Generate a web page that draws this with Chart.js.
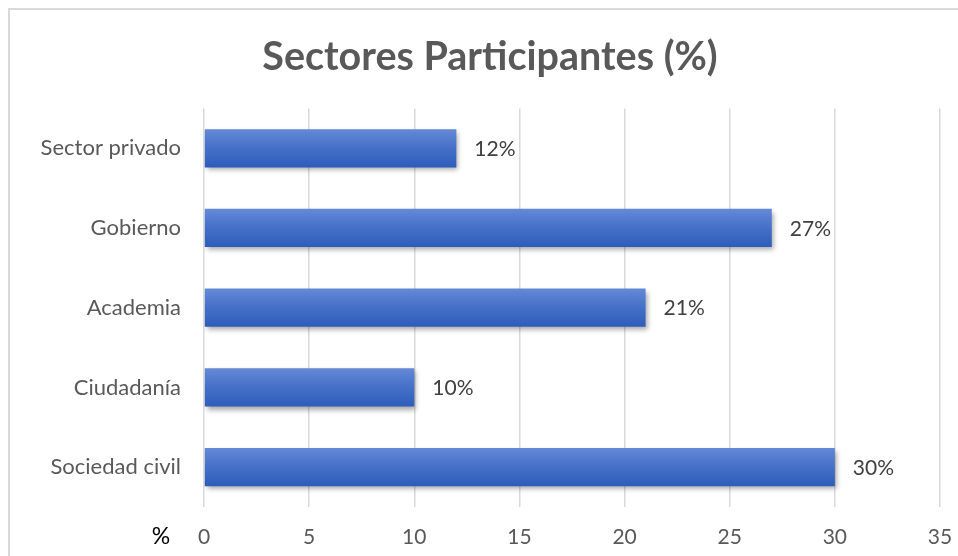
<!DOCTYPE html>
<html>
<head>
<meta charset="utf-8">
<title>Sectores Participantes (%)</title>
<script src="https://cdn.jsdelivr.net/npm/chart.js@4/dist/chart.umd.min.js"></script>
<style>
  html, body { margin: 0; padding: 0; background: #fff; }
  #wrap { width: 958px; height: 556px; }
</style>
</head>
<body>
<div id="wrap"><canvas id="chart" width="958" height="556"></canvas></div>
<script>
// datos
const categories = ['Sector privado', 'Gobierno', 'Academia', 'Ciudadanía', 'Sociedad civil'];
const values = [12, 27, 21, 10, 30];
const xTicks = [0, 5, 10, 15, 20, 25, 30, 35];
const titleText = 'Sectores Participantes (%)';
const axisUnit = '%';

const FONT = 'Lato, "Open Sans", sans-serif';
const barPct = 0.48;
const padLeft = 40;

// degradado vertical por barra
function barGradient(ctx) {
    const chart = ctx.chart;
    const y = chart.scales && chart.scales.y;
    if (!chart.chartArea || !y || ctx.dataIndex === undefined) return '#4472c4';
    const c = y.getPixelForValue(ctx.dataIndex);
    const h = y.height / categories.length * barPct / 2;
    const g = chart.ctx.createLinearGradient(0, c - h, 0, c + h);
    g.addColorStop(0, '#6489d6');
    g.addColorStop(0.5, '#4570c8');
    g.addColorStop(1, '#2d5cba');
    return g;
}

const decoPlugin = {
    id: 'deco',
    beforeDraw(chart) {
        const c = chart.ctx;
        c.save();
        c.strokeStyle = '#d9d9d9';
        c.lineWidth = 2;
        c.strokeRect(9, 9, 1000, 1000);
        c.restore();
    },
    beforeDatasetsDraw(chart) {
        const c = chart.ctx;
        c.save();
        c.shadowColor = 'rgba(0,0,0,0.35)';
        c.shadowBlur = 5;
        c.shadowOffsetX = 2;
        c.shadowOffsetY = 3;
    },
    afterDatasetsDraw(chart) {
        const c = chart.ctx;
        c.restore();
        c.save();
        // etiquetas de valor
        c.font = '21px ' + FONT;
        c.fillStyle = '#404040';
        c.textAlign = 'left';
        c.textBaseline = 'middle';
        chart.getDatasetMeta(0).data.forEach((el, i) => {
            c.fillText(values[i] + '%', el.x + 18, el.y + 1);
        });
        // unidad del eje
        c.font = '23px ' + FONT;
        c.fillStyle = '#000';
        c.textAlign = 'center';
        c.fillText(axisUnit, 161, 537);
        c.restore();
    }
};

new Chart(document.getElementById('chart'), {
    type: 'bar',
    data: {
        labels: categories,
        datasets: [{
            data: values,
            backgroundColor: barGradient,
            borderWidth: 0,
            barPercentage: barPct,
            categoryPercentage: 1
        }]
    },
    options: {
        indexAxis: 'y',
        responsive: false,
        animation: false,
        layout: { padding: { left: padLeft, right: 18, top: 0, bottom: 0 } },
        plugins: {
            legend: { display: false },
            tooltip: { enabled: false },
            title: {
                display: true,
                text: titleText,
                color: '#595959',
                font: { family: FONT, size: 39.5, weight: 'bold', lineHeight: 1.2 },
                padding: { top: 34, bottom: 27 }
            }
        },
        scales: {
            x: {
                min: 0,
                max: 35,
                afterBuildTicks: s => { s.ticks = xTicks.map(v => ({ value: v })); },
                afterFit: s => { s.height = 49; },
                grid: { color: '#d9d9d9', lineWidth: 1.5, drawTicks: true, tickLength: 18, tickColor: 'rgba(0,0,0,0)' },
                border: { display: false },
                ticks: { color: '#595959', font: { family: FONT, size: 21 }, padding: 0 }
            },
            y: {
                afterFit: s => { s.width = 204 - padLeft; },
                grid: { display: false },
                border: { display: false },
                ticks: { color: '#595959', font: { family: FONT, size: 22 }, padding: 15 }
            }
        }
    },
    plugins: [decoPlugin]
});
</script>
</body>
</html>
